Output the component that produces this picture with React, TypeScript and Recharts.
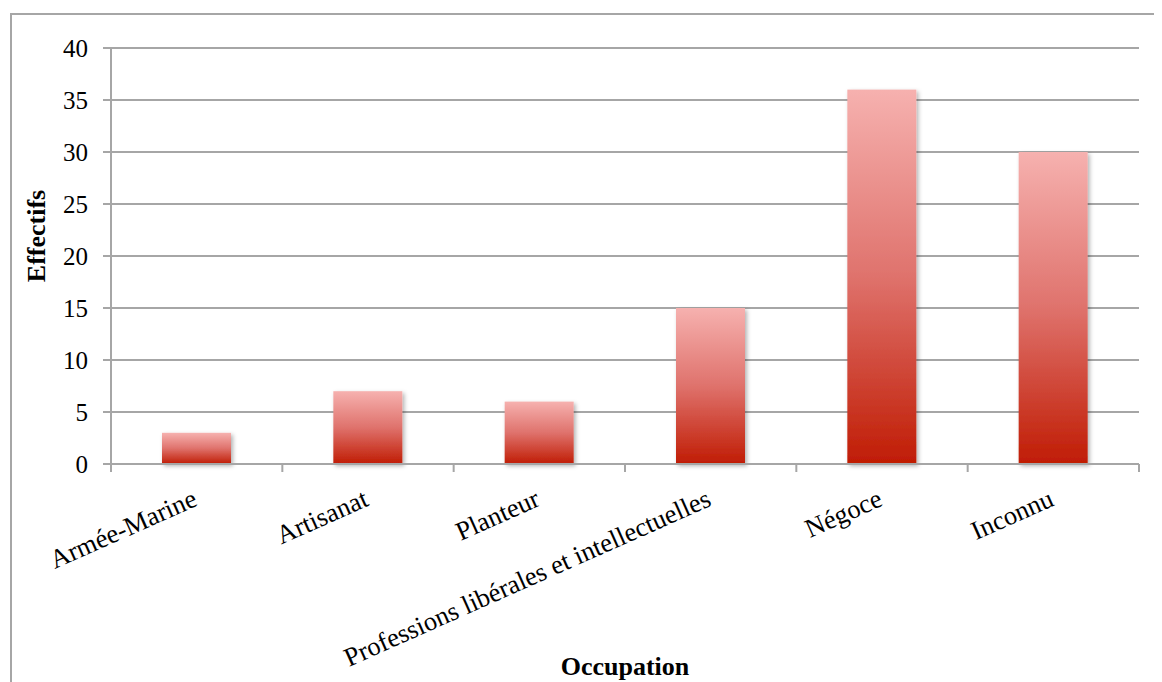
import { BarChart, Bar, XAxis, YAxis, CartesianGrid, Label } from "recharts";

const occupations = [
  "Armée-Marine",
  "Artisanat",
  "Planteur",
  "Professions libérales et intellectuelles",
  "Négoce",
  "Inconnu",
];
const effectifs = [3, 7, 6, 15, 36, 30];
const yTicks = [0, 5, 10, 15, 20, 25, 30, 35, 40];

const data = occupations.map((name, i) => ({ name, value: effectifs[i] }));

const FONT = '"Liberation Serif", "Times New Roman", serif';
const GRID = "#a6a6a6";

function CategoryTick(props: any) {
  const { x, payload, index } = props;
  const half = payload?.offset ?? 85.7;
  const axisY = 449;
  return (
    <g>
      <line x1={x - half} y1={axisY} x2={x - half} y2={axisY + 8} stroke={GRID} strokeWidth={2} />
      {index === occupations.length - 1 && (
        <line x1={x + half} y1={axisY} x2={x + half} y2={axisY + 8} stroke={GRID} strokeWidth={2} />
      )}
      <g transform={`translate(${x + 2},${axisY + 41}) rotate(-24)`}>
        <text x={0} y={0} textAnchor="end" fontSize={26.5} fontFamily={FONT} fill="#000">
          {payload.value}
        </text>
      </g>
    </g>
  );
}

function GradientBar(props: any) {
  const { x, y, width, height } = props;
  if (!height || height <= 0) return null;
  return (
    <rect
      x={x}
      y={y}
      width={width}
      height={height}
      fill="url(#barFill)"
      filter="url(#barShadow)"
    />
  );
}

export default function App() {
  return (
    <div
      style={{
        position: "relative",
        left: 2,
        top: 5,
        width: 1151,
        height: 700,
        border: `2px solid ${GRID}`,
        boxSizing: "border-box",
        background: "#fff",
      }}
    >
      <BarChart
        width={1147}
        height={690}
        data={data}
        margin={{ top: 33, right: 20, left: 0, bottom: 25 }}
      >
        <defs>
          <linearGradient id="barFill" x1="0" y1="0" x2="0" y2="1">
            <stop offset="0%" stopColor="#f6b1af" />
            <stop offset="50%" stopColor="#df726c" />
            <stop offset="100%" stopColor="#c01c04" />
          </linearGradient>
          <filter id="barShadow" x="-20%" y="-20%" width="140%" height="140%">
            <feDropShadow dx="2" dy="2" stdDeviation="2" floodColor="#000" floodOpacity="0.3" />
          </filter>
        </defs>
        <CartesianGrid vertical={false} stroke={GRID} strokeWidth={2} />
        <XAxis
          dataKey="name"
          interval={0}
          height={216}
          tickLine={false}
          axisLine={{ stroke: GRID, strokeWidth: 2 }}
          tick={<CategoryTick />}
        >
          <Label
            content={({ viewBox }: any) => (
              <text
                x={viewBox.x + viewBox.width / 2}
                y={viewBox.y + viewBox.height - 5}
                textAnchor="middle"
                fontSize={26}
                fontWeight="bold"
                fontFamily={FONT}
                fill="#000"
              >
                Occupation
              </text>
            )}
          />
        </XAxis>
        <YAxis
          width={99}
          domain={[0, 40]}
          ticks={yTicks}
          interval={0}
          tickSize={8}
          tickMargin={15}
          tickLine={{ stroke: GRID, strokeWidth: 2 }}
          axisLine={{ stroke: GRID, strokeWidth: 2 }}
          tick={{ fontSize: 25, fontFamily: FONT, fill: "#000" }}
        >
          <Label
            content={() => (
              <text
                x={0}
                y={0}
                transform="translate(33,221) rotate(-90)"
                textAnchor="middle"
                fontSize={26}
                fontWeight="bold"
                fontFamily={FONT}
                fill="#000"
              >
                Effectifs
              </text>
            )}
          />
        </YAxis>
        <Bar
          dataKey="value"
          barSize={69}
          isAnimationActive={false}
          shape={<GradientBar />}
        />
      </BarChart>
    </div>
  );
}
